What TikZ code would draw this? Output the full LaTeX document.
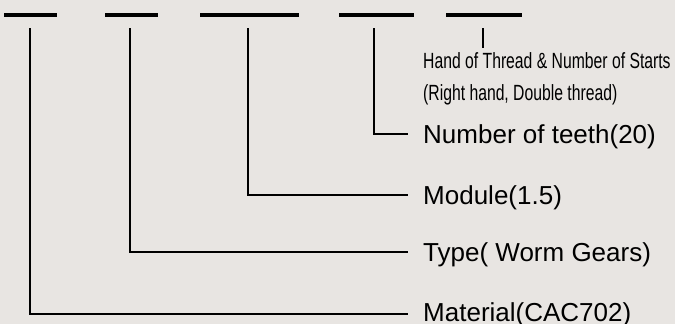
\documentclass[tikz,border=0pt]{standalone}
\usepackage{fontspec}
\setmainfont{Liberation Sans}
\newfontfamily\narrowfont[FakeStretch=0.715]{Liberation Sans}
\definecolor{bg}{RGB}{232,229,226}
\tikzset{
  barbox/.style={fill=black, inner sep=0pt, minimum height=4pt},
  conn/.style={line width=1.8pt, line join=miter},
  lab/.style={anchor=west, inner sep=0pt, font=\fontsize{26}{30}\selectfont, text height=19pt, text depth=0pt},
  smalllab/.style={anchor=north west, inner sep=0pt, align=left, font=\narrowfont\fontsize{22}{32}\selectfont}
}
\begin{document}
\begin{tikzpicture}[x=1pt,y=-1pt]
\useasboundingbox (0,0) rectangle (675,324);
\fill[bg] (0,0) rectangle (675,324);
% bars
\node[barbox, minimum width=53pt] (b1) at (30.5,15) {};
\node[barbox, minimum width=53pt] (b2) at (131.5,15) {};
\node[barbox, minimum width=99pt] (b3) at (249.5,15) {};
\node[barbox, minimum width=75pt] (b4) at (376.5,15) {};
\node[barbox, minimum width=76pt] (b5) at (484,15) {};
% connector tops
\coordinate (t1) at (30,28);
\coordinate (t2) at (130,28);
\coordinate (t3) at (248,28);
\coordinate (t4) at (374,28);
\coordinate (t5) at (483,28);
\coordinate (h5) at (483,48);
% labels
\node[smalllab] (hand) at (423,52) {Hand of Thread \& Number of Starts\\(Right hand, Double thread)};
\node[lab] (l4) at (423,134) {Number of teeth(20)};
\node[lab] (l3) at (423,195) {Module(1.5)};
\node[lab] (l2) at (423,252) {Type( Worm Gears)};
\node[lab, text height=15pt] (l1) at (423,314) {Material(CAC702)};
% connectors
\draw[conn, line width=1.5pt] (t5) -- (h5);
\draw[conn] (t4) |- ([xshift=-15pt]l4.west);
\draw[conn] (t3) |- ([xshift=-15pt]l3.west);
\draw[conn] (t2) |- ([xshift=-15pt]l2.west);
\draw[conn] (t1) |- ([xshift=-15pt]l1.west);
\end{tikzpicture}
\end{document}
